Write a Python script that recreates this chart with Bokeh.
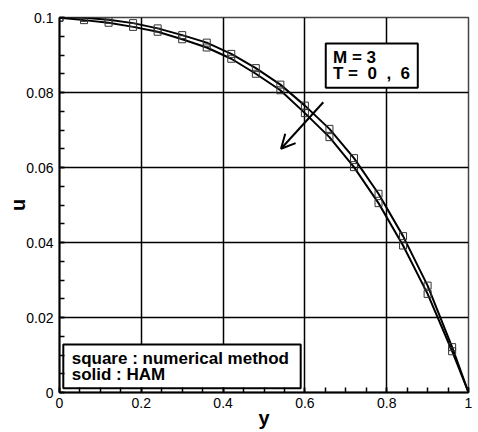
from bokeh.plotting import figure
from bokeh.models import (SingleIntervalTicker, CustomJSTickFormatter, Arrow,
                          OpenHead, Range1d)
from bokeh.core.properties import value
from bokeh.embed import file_html
from bokeh.resources import INLINE

# ---- data ----
y_nodes = [0.0, 0.06, 0.12, 0.18, 0.24, 0.30, 0.36, 0.42, 0.48, 0.54,
           0.60, 0.66, 0.72, 0.78, 0.84, 0.90, 0.96, 1.0]
u_ham_t0 = [0.1000, 0.0999, 0.0994, 0.0985, 0.0971, 0.0953, 0.0933, 0.0903,
            0.0865, 0.0821, 0.0765, 0.0703, 0.0625, 0.0530, 0.0417, 0.0285,
            0.0121, 0.0]
u_ham_t6 = [0.0999, 0.0993, 0.0986, 0.0975, 0.0962, 0.0942, 0.0920, 0.0890,
            0.0850, 0.0806, 0.0745, 0.0681, 0.0601, 0.0505, 0.0392, 0.0263,
            0.0110, 0.0]
y_num = y_nodes[:-1]
u_num_t0 = u_ham_t0[:-1]
u_num_t6 = u_ham_t6[:-1]

NB = "\u00a0"
info_lines = ["M = 3", "T =" + NB * 2 + "0" + NB * 2 + "," + NB * 2 + "6"]
legend_lines = ["square : numerical method", "solid : HAM"]

FONT = "Liberation Sans"

p = figure(width=478, height=432, output_backend="svg", toolbar_location=None,
           x_range=Range1d(0, 1), y_range=Range1d(0, 0.1),
           min_border_left=59, min_border_right=10, min_border_top=17,
           min_border_bottom=40, background_fill_color="white",
           border_fill_color="white")

fmt = CustomJSTickFormatter(code="return String(Math.round(tick*1000)/1000);")
p.xaxis.ticker = SingleIntervalTicker(interval=0.2, num_minor_ticks=4)
p.yaxis.ticker = SingleIntervalTicker(interval=0.02, num_minor_ticks=4)
p.xgrid.ticker = p.xaxis.ticker
p.ygrid.ticker = p.yaxis.ticker
for ax in (p.xaxis, p.yaxis):
    ax.formatter = fmt
    ax.major_tick_in = 5
    ax.major_tick_out = 0
    ax.minor_tick_in = 5
    ax.minor_tick_out = 0
    ax.axis_line_color = "black"
    ax.axis_line_width = 2
    ax.major_tick_line_color = "black"
    ax.minor_tick_line_color = "black"
    ax.major_tick_line_width = 1.5
    ax.minor_tick_line_width = 1.5
    ax.major_label_text_font = FONT
    ax.major_label_text_font_size = "14px"
    ax.major_label_text_color = "black"
    ax.axis_label_text_font = FONT
    ax.axis_label_text_font_style = "bold"
    ax.axis_label_text_font_size = "20px"
    ax.axis_label_text_color = "black"

p.xaxis.axis_label = "y"
p.yaxis.axis_label = "u"
p.xaxis.major_label_standoff = 5
p.yaxis.major_label_standoff = 6
p.xaxis.axis_label_standoff = -4
p.yaxis.axis_label_standoff = -6

for g in (p.xgrid, p.ygrid):
    g.grid_line_color = "black"
    g.grid_line_width = 1.5
    g.grid_line_alpha = 1.0

p.outline_line_color = "#444444"
p.outline_line_width = 1.5

# HAM solid curves
p.line(y_nodes, u_ham_t0, line_color="black", line_width=2)
p.line(y_nodes, u_ham_t6, line_color="black", line_width=2)
# numerical squares
p.scatter(y_num, u_num_t0, marker="square", size=7, fill_color=None,
          line_color="#333333", line_width=1)
p.scatter(y_num, u_num_t6, marker="square", size=7, fill_color=None,
          line_color="#333333", line_width=1)

# arrow (direction of increasing T)
p.add_layout(Arrow(end=OpenHead(size=14, line_width=2, line_color="black"),
                   x_start=0.645, y_start=0.0774, x_end=0.5416, y_end=0.0650,
                   line_width=2, line_color="black"))

# info box
p.quad(left=[0.651], right=[0.876], top=[0.0931], bottom=[0.0813],
       fill_color="white", line_color="black", line_width=2)
p.text(x=[0.6687, 0.6687], y=[0.0894, 0.0850], text=info_lines,
       text_font=value(FONT), text_font_style="bold", text_font_size="17px",
       text_baseline="middle", text_align="left", text_color="black")

# legend box
p.quad(left=[0.0093], right=[0.5897], top=[0.0128], bottom=[0.00115],
       fill_color="white", line_color="black", line_width=2)
p.text(x=[0.0298, 0.0298], y=[0.00899, 0.0048], text=legend_lines,
       text_font=value(FONT), text_font_style="bold", text_font_size="17px",
       text_baseline="middle", text_align="left", text_color="black")

open("out.html", "w").write(file_html(p, INLINE))
